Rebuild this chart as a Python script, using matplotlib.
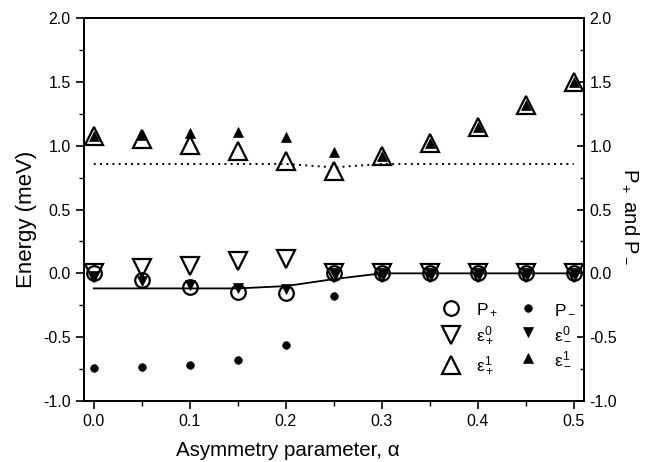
import matplotlib
matplotlib.use('Agg')
import matplotlib.pyplot as plt
from matplotlib.ticker import MultipleLocator

plt.rcParams['font.family'] = ['Liberation Sans', 'DejaVu Sans']
plt.rcParams['mathtext.fontset'] = 'custom'
plt.rcParams['mathtext.rm'] = 'Liberation Sans'
plt.rcParams['mathtext.it'] = 'Liberation Sans'
plt.rcParams['mathtext.bf'] = 'Liberation Sans:bold'
plt.rcParams['mathtext.sf'] = 'Liberation Sans'

# ---- data ----
alpha = [0.0, 0.05, 0.10, 0.15, 0.20, 0.25, 0.30, 0.35, 0.40, 0.45, 0.50]
p_plus = [0.0, -0.053, -0.105, -0.149, -0.152, 0.0, 0.0, 0.0, 0.0, 0.0, 0.0]
p_minus = [-0.74, -0.735, -0.717, -0.675, -0.565, -0.18, 0.0, 0.0, 0.0, 0.0, 0.0]
eps0_plus = [0.0, 0.039, 0.061, 0.095, 0.11, 0.0, 0.0, 0.0, 0.0, 0.0, 0.0]
eps0_minus = [-0.02, -0.06, -0.09, -0.118, -0.12, 0.0, 0.0, 0.0, 0.0, 0.0, 0.0]
eps1_plus = [1.077, 1.051, 1.002, 0.957, 0.878, 0.80, 0.923, 1.02, 1.15, 1.315, 1.50]
eps1_minus = [1.077, 1.085, 1.10, 1.104, 1.068, 0.95, 0.923, 1.02, 1.15, 1.315, 1.50]
solid_curve = [-0.118, -0.118, -0.118, -0.118, -0.10, -0.045, 0.0, 0.0, 0.0, 0.0, 0.0]
dotted_curve = [0.857, 0.857, 0.857, 0.857, 0.857, 0.83, 0.857, 0.857, 0.857, 0.857, 0.857]

x_ticks = [0.0, 0.1, 0.2, 0.3, 0.4, 0.5]
y_ticks = [-1.0, -0.5, 0.0, 0.5, 1.0, 1.5, 2.0]

fig = plt.figure(figsize=(6.65, 4.62), dpi=100)
ax = fig.add_axes([0.126, 0.132, 0.752, 0.829])

ax.plot(alpha, solid_curve, '-', color='black', lw=1.3, zorder=2)
ax.plot(alpha, dotted_curve, linestyle=(0, (1, 2.2)), color='black', lw=1.4, zorder=2)

h_pp, = ax.plot(alpha, p_plus, 'o', ms=10.5, mfc='none', mec='black', mew=1.6,
                ls='none', label='P$_+$', zorder=3)
h_e0p, = ax.plot(alpha, eps0_plus, 'v', ms=12.5, mfc='none', mec='black', mew=1.6,
                 ls='none', label=r'$ε^0_+$', zorder=3)
h_e1p, = ax.plot(alpha, eps1_plus, '^', ms=12.5, mfc='none', mec='black', mew=1.6,
                 ls='none', label=r'$ε^1_+$', zorder=3)
h_pm, = ax.plot(alpha, p_minus, 'o', ms=5.5, mfc='black', mec='black', mew=0.5,
                ls='none', label='P$_-$', zorder=4)
h_e0m, = ax.plot(alpha, eps0_minus, 'v', ms=7.5, mfc='black', mec='black', mew=0.5,
                 ls='none', label=r'$ε^0_-$', zorder=4)
h_e1m, = ax.plot(alpha, eps1_minus, '^', ms=7.5, mfc='black', mec='black', mew=0.5,
                 ls='none', label=r'$ε^1_-$', zorder=4)

ax.set_xlim(-0.0104, 0.5105)
ax.set_ylim(-1.0, 2.0)
ax.set_xticks(x_ticks)
ax.set_xticklabels([f'{v:.1f}' for v in x_ticks])
ax.xaxis.set_minor_locator(MultipleLocator(0.05))
ax.set_yticks(y_ticks)
ax.set_yticklabels([f'{v:.1f}' for v in y_ticks])
ax.yaxis.set_minor_locator(MultipleLocator(0.25))

ax.tick_params(axis='both', which='major', direction='out', length=6, width=1.2,
               labelsize=11.5, top=False, right=False)
ax.tick_params(axis='both', which='minor', direction='out', length=3.5, width=1.0,
               top=False, right=False)
for s in ax.spines.values():
    s.set_linewidth(1.3)

ax.set_xlabel('Asymmetry parameter, α', fontsize=14.8)
ax.xaxis.set_label_coords(0.407, -0.105)
ax.set_ylabel('Energy (meV)', fontsize=16)
ax.yaxis.set_label_coords(-0.094, 0.475)

ax2 = ax.twinx()
ax2.set_ylim(-1.0, 2.0)
ax2.set_yticks(y_ticks)
ax2.set_yticklabels([f'{v:.1f}' for v in y_ticks])
ax2.yaxis.set_minor_locator(MultipleLocator(0.25))
ax2.tick_params(axis='y', which='major', direction='in', length=5, width=1.2,
                labelsize=11.5, pad=4)
ax2.tick_params(axis='y', which='minor', direction='in', length=3, width=1.0)
ax2.set_ylabel('P$_+$ and P$_-$', fontsize=14.5, rotation=270, labelpad=13)
ax2.yaxis.set_label_coords(1.112, 0.48)
for s in ax2.spines.values():
    s.set_linewidth(1.3)

ax.legend(handles=[h_pp, h_e0p, h_e1p, h_pm, h_e0m, h_e1m], ncol=2,
          loc='lower right', bbox_to_anchor=(0.998, 0.045), frameon=False,
          fontsize=12.5, numpoints=1, handlelength=1.0, handletextpad=0.95,
          columnspacing=1.25, labelspacing=0.4, borderaxespad=0.0)

fig.savefig('out.png', dpi=100)
